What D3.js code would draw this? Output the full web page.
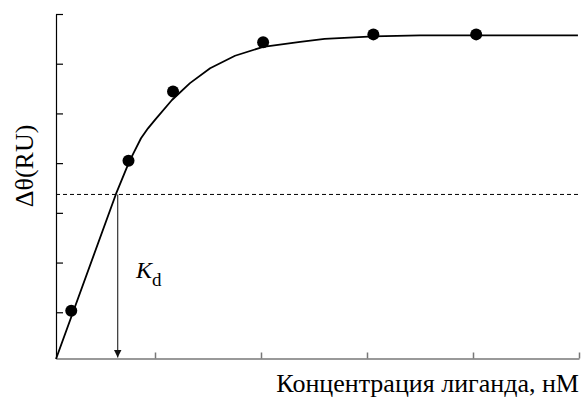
<!DOCTYPE html>
<html>
<head>
<meta charset="utf-8">
<script src="https://cdn.jsdelivr.net/npm/d3@7"></script>
<style>
  body { margin: 0; background: #fff; }
</style>
</head>
<body>
<script>
// measured points
var pointX = [0.21, 0.75, 1.17, 2.02, 3.06, 4.03];
var pointY = [1.03, 4.05, 5.44, 6.43, 6.59, 6.59];

// fitted curve
var curveX = [0.066, 0.632, 0.755, 0.802, 0.868, 0.934, 1.0, 1.16, 1.33, 1.52, 1.755, 2.02, 2.37, 2.6, 3.06, 3.5, 4.99];
var curveY = [0.06, 3.38, 4.02, 4.22, 4.5, 4.7, 4.87, 5.27, 5.61, 5.91, 6.16, 6.34, 6.44, 6.5, 6.55, 6.57, 6.57];

var xTicks = [1, 2, 3, 4, 5];
var yTicks = [1, 2, 3, 4, 5, 6, 7];

var halfLevel = 3.37;   // dashed line
var kd = 0.648;         // arrow position

var width = 584, height = 397;
var serif = "'Liberation Serif', 'Times New Roman', 'DejaVu Serif', serif";

var x = d3.scaleLinear().domain([0.066, 5]).range([56, 579]);
var y = d3.scaleLinear().domain([0.07, 7]).range([358.5, 14]);

var svg = d3.select("body").append("svg")
  .attr("width", width)
  .attr("height", height);

// x axis (grey, ticks pointing up)
var xAxis = svg.append("g")
  .attr("transform", "translate(0," + y(0.07) + ")")
  .call(d3.axisBottom(x).tickValues(xTicks).tickSizeInner(-6).tickSizeOuter(0).tickFormat(""));
xAxis.selectAll("path, line").attr("stroke", "#777").attr("stroke-width", 1.5);

// y axis (black, ticks pointing right)
var yAxis = svg.append("g")
  .attr("transform", "translate(" + x(0.066) + ",0)")
  .call(d3.axisLeft(y).tickValues(yTicks).tickSizeInner(-7).tickSizeOuter(0).tickFormat(""));
yAxis.selectAll("path, line").attr("stroke", "#000").attr("stroke-width", 1.2);

// dashed level
svg.append("line")
  .attr("x1", x(0.066)).attr("x2", x(5))
  .attr("y1", y(halfLevel)).attr("y2", y(halfLevel))
  .attr("stroke", "#000").attr("stroke-width", 1)
  .attr("stroke-dasharray", "4,3");

// Kd arrow
svg.append("defs").append("marker")
  .attr("id", "arr")
  .attr("viewBox", "0 0 10 10")
  .attr("refX", 10).attr("refY", 5)
  .attr("markerWidth", 8).attr("markerHeight", 8)
  .attr("markerUnits", "userSpaceOnUse")
  .attr("orient", "auto")
  .append("path").attr("d", "M0,0L10,5L0,10Z").attr("fill", "#111");

svg.append("line")
  .attr("x1", x(kd)).attr("x2", x(kd))
  .attr("y1", y(halfLevel)).attr("y2", y(0.07) - 1)
  .attr("stroke", "#333").attr("stroke-width", 1.2)
  .attr("marker-end", "url(#arr)");

// curve
var line = d3.line()
  .x(function(d) { return x(d[0]); })
  .y(function(d) { return y(d[1]); });

svg.append("path")
  .datum(d3.zip(curveX, curveY))
  .attr("d", line)
  .attr("fill", "none")
  .attr("stroke", "#000")
  .attr("stroke-width", 1.8)
  .attr("stroke-linejoin", "round");

// points
svg.selectAll("circle.pt")
  .data(d3.zip(pointX, pointY))
  .enter().append("circle")
  .attr("class", "pt")
  .attr("cx", function(d) { return x(d[0]); })
  .attr("cy", function(d) { return y(d[1]); })
  .attr("r", 6)
  .attr("fill", "#000");

// Kd label
var kdLabel = svg.append("text")
  .attr("x", 136)
  .attr("y", 277.5)
  .attr("font-family", serif)
  .attr("font-size", 24);
kdLabel.append("tspan").attr("font-style", "italic").text("K");
kdLabel.append("tspan").attr("font-size", 19).attr("dy", 8).text("d");

// axis titles
svg.append("text")
  .attr("transform", "translate(33,166) rotate(-90)")
  .attr("text-anchor", "middle")
  .attr("font-family", serif)
  .attr("font-size", 26)
  .text("Δθ(RU)");

svg.append("text")
  .attr("x", 579)
  .attr("y", 391.5)
  .attr("text-anchor", "end")
  .attr("font-family", serif)
  .attr("font-size", 26)
  .text("Концентрация лиганда, нМ");
</script>
</body>
</html>
